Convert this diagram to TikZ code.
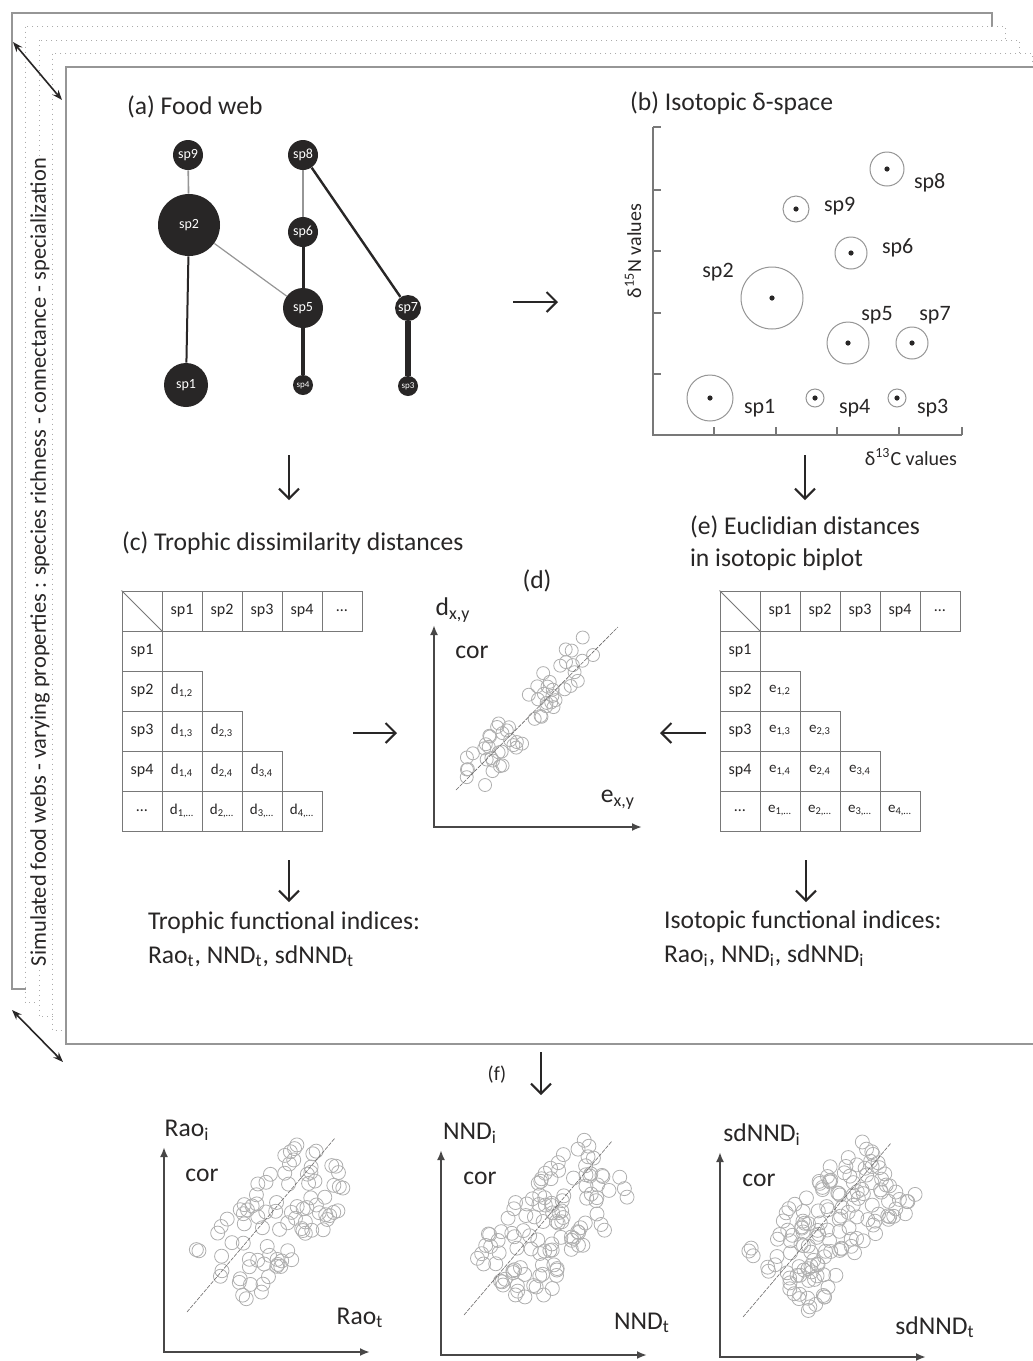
\documentclass[tikz,border=0pt]{standalone}
\usepackage{fontspec}
\setmainfont{Carlito}
\usepackage{tikz}
\usetikzlibrary{arrows.meta,positioning}
\definecolor{InkGray}{RGB}{40,38,38}
\definecolor{EdgeGray}{RGB}{150,150,150}
\definecolor{CellGray}{RGB}{120,120,120}
\definecolor{DotGray}{RGB}{175,175,175}
\newcommand{\setfs}[1]{\fontsize{#1}{#1}\selectfont}

\tikzset{
  species/.style={circle, fill=InkGray, text=white, inner sep=0pt, font=\setfs{7}},
  niche/.style={circle, draw=EdgeGray, line width=0.5pt, inner sep=0pt},
  title/.style={anchor=west, font=\fontsize{12.8}{16}\selectfont, align=left},
  cell/.style={draw=CellGray, line width=0.5pt, minimum size=20pt, inner sep=0pt, font=\setfs{8}},
  flow/.style={InkGray, line width=1pt, -{Straight Barb[length=5pt,width=10pt]}},
  axis/.style={InkGray!85, line width=1pt, {Latex[length=5pt,width=4pt]}-{Latex[length=5pt,width=4pt]}},
  obs/.style={draw=DotGray, line width=0.4pt},
  fit line/.style={InkGray!70, line width=0.3pt, dash pattern=on 2pt off 0.6pt},
}

\begin{document}
\begin{tikzpicture}[x=0.5pt, y=-0.5pt, text=InkGray, font=\setfs{12.8}]
    \useasboundingbox (0,0) rectangle (1033,1361);
    \clip (0,0) rectangle (1033,1361);
    %%Stacked pages
    \draw[EdgeGray, line width=0.8pt, fill=white] (12,13) rectangle (992,989);
    \foreach \k in {1,2,3}
      \draw[EdgeGray!80, line width=0.5pt, dotted, fill=white]
        ({12+13.5*\k},{13+13.5*\k}) rectangle ({992+13.5*\k},{989+13.75*\k});
    \draw[EdgeGray, line width=0.6pt, fill=white] (66,67) rectangle (1046,1044);
    \node[rotate=90, fill=white, inner sep=1pt, font=\setfs{11.2}] (props) at (40,562)
      {Simulated food webs - varying properties : species richness - connectance - specialization};
    \coordinate (topA) at (13,42);
    \coordinate (topB) at (62,100);
    \coordinate (botA) at (12,1010);
    \coordinate (botB) at (63,1062);
    \draw[InkGray, line width=0.8pt, {Stealth[length=5pt]}-{Stealth[length=5pt]}] (topA) -- (topB);
    \draw[InkGray, line width=0.8pt, {Stealth[length=5pt]}-{Stealth[length=5pt]}] (botA) -- (botB);

    %%(a) Food web
    \node[title] (ta) at (120,107) {(a) Food web};
    \node[species, minimum size=15pt] (fw9) at (188,155) {sp9};
    \node[species, minimum size=15pt] (fw8) at (303,155) {sp8};
    \node[species, minimum size=31pt] (fw2) at (189,225) {sp2};
    \node[species, minimum size=15pt] (fw6) at (303,232) {sp6};
    \node[species, minimum size=20pt] (fw5) at (303,308) {sp5};
    \node[species, minimum size=13pt] (fw7) at (408,308) {sp7};
    \node[species, minimum size=22pt] (fw1) at (186,385) {sp1};
    \node[species, minimum size=10pt, font=\setfs{4.5}] (fw4) at (303,385) {sp4};
    \node[species, minimum size=10pt, font=\setfs{4.5}] (fw3) at (408,386) {sp3};
    \draw[EdgeGray, line width=0.8pt] (fw9) -- (fw2);
    \draw[EdgeGray, line width=0.6pt] (fw2) -- (fw5);
    \draw[EdgeGray, line width=0.8pt] (fw8) -- (fw6);
    \draw[InkGray, line width=1pt] (fw2) -- (fw1);
    \draw[InkGray, line width=1.5pt] (fw6) -- (fw5);
    \draw[InkGray, line width=2pt] (fw5) -- (fw4);
    \draw[InkGray, line width=1.2pt] (fw8) -- (fw7);
    \draw[InkGray, line width=2.6pt] (fw7) -- (fw3);

    %%(b) Isotopic space
    \node[title] (tb) at (623,103) {(b) Isotopic δ-space};
    \coordinate (bY) at (653,127);
    \coordinate (bO) at (653,435);
    \coordinate (bX) at (962,435);
    \draw[EdgeGray!80!black, line width=0.6pt] (bY) -- (bO) -- (bX);
    \foreach \y in {127,190,251,313,374}
      \draw[EdgeGray!80!black, line width=0.6pt] (653,\y) -- ++(8,0);
    \foreach \x in {714,776,837,899,962}
      \draw[EdgeGray!80!black, line width=0.6pt] (\x,435) -- ++(0,-8);
    \node[rotate=90, font=\setfs{10}] (ylab) at (633,251) {δ\textsuperscript{15}N values};
    \node[anchor=east, font=\setfs{10}] (xlab) at (964,457) {δ\textsuperscript{13}C values};
    \foreach \n/\x/\y/\d in {8/887/169/34, 9/796/209/26, 6/851/253/32, 2/772/298/62,
                             5/848/343/42, 7/912/343/32, 1/710/398/46, 4/815/398/18, 3/897/398/18}{
      \node[niche, minimum size=\d*0.5pt] (is\n) at (\x,\y) {};
      \fill[InkGray] (is\n.center) circle[radius=2.6];
    }
    \draw
    (907,183) node[anchor=west, font=\setfs{11}]{sp8}
    (817,206) node[anchor=west, font=\setfs{11}]{sp9}
    (875,248) node[anchor=west, font=\setfs{11}]{sp6}
    (718,272) node[font=\setfs{11}]{sp2}
    (877,315) node[font=\setfs{11}]{sp5}
    (935,315) node[font=\setfs{11}]{sp7}
    (737,408) node[anchor=west, font=\setfs{11}]{sp1}
    (832,408) node[anchor=west, font=\setfs{11}]{sp4}
    (910,408) node[anchor=west, font=\setfs{11}]{sp3}
    ;

    %%Arrows between panels
    \coordinate (ab1) at (513,302);  \coordinate (ab2) at (558,302);
    \coordinate (ac1) at (289,455);  \coordinate (ac2) at (289,500);
    \coordinate (be1) at (805,455);  \coordinate (be2) at (805,500);
    \coordinate (cd1) at (353,733);  \coordinate (cd2) at (397,733);
    \coordinate (ed1) at (706,733);  \coordinate (ed2) at (660,733);
    \coordinate (ct1) at (289,860);  \coordinate (ct2) at (289,902);
    \coordinate (ei1) at (806,860);  \coordinate (ei2) at (806,902);
    \coordinate (f1) at (541,1052);  \coordinate (f2) at (541,1095);
    \foreach \a/\b in {ab1/ab2, ac1/ac2, be1/be2, cd1/cd2, ed1/ed2, ct1/ct2, ei1/ei2, f1/f2}
      \draw[flow] (\a) -- (\b);

    %%(c) and (e) distance matrices
    \node[title] (tc) at (115,543) {(c) Trophic dissimilarity distances};
    \node[title] (te) at (683,543) {(e) Euclidian distances\\in isotopic biplot};
    \foreach \m/\x/\l in {tc/122/d, te/720/e}{
      \node[cell] (\m-0-0) at (\x+20,611) {};
      \draw[CellGray, line width=0.5pt] (\m-0-0.north west) -- (\m-0-0.south east);
      \foreach \c/\t in {1/sp1, 2/sp2, 3/sp3, 4/sp4, 5/…}{
        \node[cell] (\m-0-\c) at ({\x+20+40*\c},611) {\t};
        \node[cell] (\m-\c-0) at (\x+20,{611+40*\c}) {\t};
      }
      \foreach \r in {2,...,5}{
        \pgfmathtruncatemacro\rr{\r-1}
        \foreach \c in {1,...,\rr}
          \node[cell, font=\setfs{7.5}] (\m-\r-\c) at ({\x+20+40*\c},{611+40*\r})
            {\l\textsubscript{\c,\ifnum\r=5 …\else\r\fi}};
      }
    }

    %%(d) correlation of distances
    \node (td) at (537,581) {(d)};
    \coordinate (dY) at (434,625);
    \coordinate (dO) at (434,827);
    \coordinate (dX) at (642,827);
    \draw[axis] (dY) -- (dO) -- (dX);
    \pgfmathsetseed{11}
    \foreach \i in {1,...,58}{
      \pgfmathsetmacro\t{rnd}
      \pgfmathsetmacro\s{19*rand}
      \draw[obs] ({468+128*\t+0.707*\s},{780-138*\t+0.707*\s}) circle[radius=6.5];
    }
    \coordinate (dL1) at (456,790);
    \coordinate (dL2) at (618,627);
    \draw[fit line] (dL1) -- (dL2);
    \draw
    (453,610) node{d\textsubscript{x,y}}
    (472,652) node{cor}
    (618,800) node{e\textsubscript{x,y}}
    ;

    %%Functional indices
    \node[anchor=west, align=left, font=\fontsize{12.8}{17}\selectfont] (trind) at (141,939)
      {Trophic functional indices:\\Rao\textsubscript{t}, NND\textsubscript{t}, sdNND\textsubscript{t}};
    \node[anchor=west, align=left, font=\fontsize{12.8}{17}\selectfont] (isind) at (657,939)
      {Isotopic functional indices:\\Rao\textsubscript{i}, NND\textsubscript{i}, sdNND\textsubscript{i}};

    %%(f) correlations of indices
    \node[font=\setfs{10}] (tf) at (497,1075) {(f)};
    \foreach \p/\ox/\oy/\n/\w in {rao/0/0/90/40, nnd/277/3/115/44, sd/556/5/145/44}{
      \begin{scope}[shift={(\ox,\oy)}]
        \coordinate (\p Y) at (164,1147);
        \coordinate (\p O) at (164,1352);
        \coordinate (\p X) at (370,1352);
        \draw[axis] (\p Y) -- (\p O) -- (\p X);
        \foreach \i in {1,...,\n}{
          \pgfmathsetmacro\t{rnd}
          \pgfmathsetmacro\s{\w*rand}
          \draw[obs] ({222+112*\t+0.707*\s},{1278-116*\t+0.707*\s}) circle[radius=7];
        }
        \coordinate (\p L1) at (187,1312);
        \coordinate (\p L2) at (335,1138);
        \draw[fit line] (\p L1) -- (\p L2);
      \end{scope}
    }
    \draw
    (187,1130) node{Rao\textsubscript{i}}
    (202,1175) node{cor}
    (360,1318) node{Rao\textsubscript{t}}
    (470,1133) node{NND\textsubscript{i}}
    (480,1178) node{cor}
    (642,1323) node{NND\textsubscript{t}}
    (762,1135) node{sdNND\textsubscript{i}}
    (759,1180) node{cor}
    (935,1327) node{sdNND\textsubscript{t}}
    ;
\end{tikzpicture}
\end{document}
